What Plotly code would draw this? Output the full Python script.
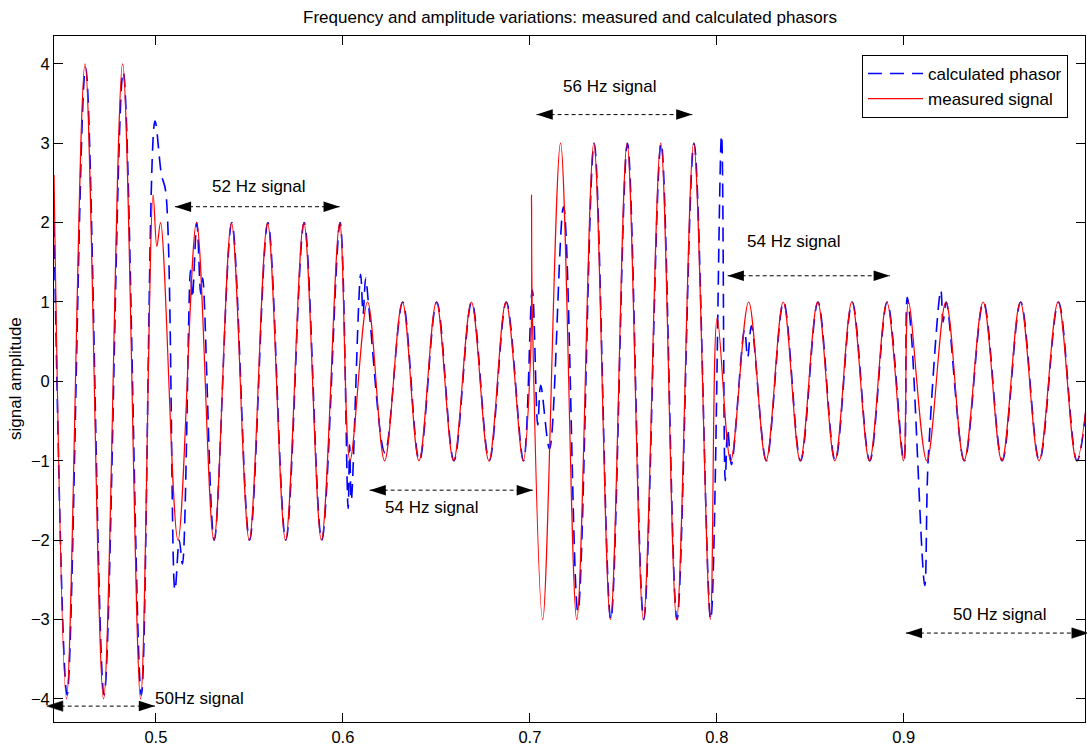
import plotly.graph_objects as go

# ---- measured signal (red): extrema ----
red_t = [0.4455, 0.4522, 0.4621, 0.4720, 0.4822, 0.4918, 0.4985, 0.5005, 0.5025,
         0.5118, 0.5217, 0.5310, 0.5404, 0.5499, 0.5597, 0.5693, 0.5791, 0.5885, 0.5983,
         0.6038, 0.6132, 0.6223, 0.6318, 0.6407, 0.6500, 0.6592, 0.6687, 0.6781, 0.6872,
         0.6964, 0.7005, 0.7009, 0.7013,
         0.7069, 0.7164, 0.7251, 0.7342, 0.7431, 0.7520, 0.7607, 0.7700, 0.7785, 0.7876,
         0.7965, 0.8002,
         0.8074, 0.8170, 0.8263, 0.8355, 0.8446, 0.8539, 0.8631, 0.8722, 0.8816, 0.8909,
         0.8998, 0.9025, 0.9123, 0.9225, 0.9322, 0.9424, 0.9524, 0.9623, 0.9723, 0.9825,
         0.9924, 1.0024]
red_v = [2.6, -4, 4, -4, 4, -4, 2.35, 1.7, 2.0,
         -2, 2, -2, 2, -2, 2, -2, 2, -2, 2,
         -1, 1, -1, 1, -1, 1, -1, 1, -1, 1,
         -1, 0.4, 2.35, 0.9,
         -3, 3, -3, 3, -3, 3, -3, 3, -3, 3,
         -3, 0.8,
         -1, 1, -1, 1, -1, 1, -1, 1, -1, 1,
         -1, 1, -1, 1, -1, 1, -1, 1, -1, 1,
         -1, 1]

# ---- calculated phasor (blue): extrema ----
blue_t = [0.4455, 0.4525, 0.4624, 0.4723, 0.4825, 0.4922, 0.4995, 0.5030, 0.5052,
          0.5102, 0.5125, 0.5142, 0.5185, 0.5195, 0.5219, 0.5240, 0.5250,
          0.5312, 0.5406, 0.5501, 0.5599, 0.5695, 0.5793, 0.5887, 0.5985,
          0.6028, 0.6036, 0.6045, 0.6095, 0.6108, 0.6122, 0.6140,
          0.6225, 0.6320, 0.6409, 0.6502, 0.6594, 0.6689, 0.6783, 0.6874,
          0.6966, 0.7013, 0.7042, 0.7058, 0.7105, 0.7180,
          0.7257, 0.7344, 0.7433, 0.7522, 0.7609, 0.7702, 0.7787, 0.7878,
          0.7967, 0.8025, 0.8045, 0.8058, 0.8078, 0.8148, 0.8165, 0.8185,
          0.8265, 0.8357, 0.8448, 0.8541, 0.8633, 0.8724, 0.8818, 0.8911,
          0.9000, 0.9018, 0.9040, 0.9112, 0.9130, 0.9198, 0.9210, 0.9227,
          0.9324, 0.9426, 0.9526, 0.9625, 0.9725, 0.9827, 0.9926, 1.0026]
blue_v = [2.0, -3.95, 3.95, -3.95, 3.9, -3.95, 3.28, 2.6, 2.4,
          -2.63, -2.0, -2.3, 1.4, 1.05, 2.0, 1.1, 1.3,
          -2, 2, -2, 2, -2, 2, -2, 2,
          -1.6, -0.8, -1.5, 1.35, 0.85, 1.3, 0.9,
          -0.9, 1, -1, 1, -1, 1, -1, 1,
          -1, 1.15, -0.55, -0.05, -0.85, 2.2,
          -2.9, 3, -3, 3, -3, 3, -3, 3,
          -3, 3.1, -1.25, -0.6, -1.05, 0.65, 0.3, 0.7,
          -1, 1, -1, 1, -1, 1, -1, 1,
          -1, 1.06, 0.6, -2.57, -1.0, 1.15, 0.75, 1.0,
          -1, 1, -1, 1, -1, 1, -1, 1]

x_ticks = [0.5, 0.6, 0.7, 0.8, 0.9]
y_ticks = [-4, -3, -2, -1, 0, 1, 2, 3, 4]

label_text = ["52 Hz signal", "54 Hz signal", "56 Hz signal", "54 Hz signal", "50 Hz signal", "50Hz signal"]
label_x = [0.5549, 0.6479, 0.7426, 0.8411, 0.9515, 0.5233]
label_y = [2.46, -1.59, 3.72, 1.76, -2.94, -4.0]
arrow_x0 = [0.5102, 0.6143, 0.7036, 0.8058, 0.9011, 0.4416]
arrow_x1 = [0.5983, 0.7016, 0.7869, 0.8925, 0.9985, 0.4995]
arrow_y = [2.2, -1.37, 3.36, 1.33, -3.17, -4.09]

X_RANGE = [0.4455, 0.9969]
Y_RANGE = [-4.29, 4.35]
FONT = "Liberation Sans, Arial, sans-serif"
PLOT_W, PLOT_H = 1032, 689

fig = go.Figure()
fig.add_trace(go.Scatter(x=blue_t, y=blue_v, mode="lines", name="calculated phasor",
                         line=dict(color="#0000ff", width=1.6, dash="14px,8px", shape="spline")))
fig.add_trace(go.Scatter(x=red_t, y=red_v, mode="lines", name="measured signal",
                         line=dict(color="#ff0000", width=1.2, shape="spline")))

# dotted double-headed arrows
ax, ay, ang = [], [], []
for x0, x1, yv in zip(arrow_x0, arrow_x1, arrow_y):
    ax += [x0, x1, None]
    ay += [yv, yv, None]
    ang += [-90, 90, 0]
fig.add_trace(go.Scatter(x=ax, y=ay, mode="lines+markers", showlegend=False, cliponaxis=False,
                         line=dict(color="black", width=1, dash="4px,3px"),
                         marker=dict(symbol="arrow", size=17, angle=ang, color="black")))

# arrow heads that fall just outside the axis range (markers there are hidden by plotly)
HEAD_LEN, HEAD_HALF = 16.2, 5.25
span = X_RANGE[1] - X_RANGE[0]
ypx = PLOT_H / (Y_RANGE[1] - Y_RANGE[0])
for x0, x1, yv in zip(arrow_x0, arrow_x1, arrow_y):
    for tip, direction in ((x0, -1), (x1, 1)):
        if X_RANGE[0] <= tip <= X_RANGE[1]:
            continue
        px = (tip - X_RANGE[0]) / span
        bx = px - direction * HEAD_LEN / PLOT_W
        dy = HEAD_HALF / ypx
        fig.add_shape(type="path", xref="paper", yref="y",
                      path=f"M {px},{yv} L {bx},{yv + dy} L {bx},{yv - dy} Z",
                      fillcolor="black", line=dict(color="black", width=0.5))

for t, x, y in zip(label_text, label_x, label_y):
    fig.add_annotation(x=x, y=y, text=t, showarrow=False, xanchor="center", yanchor="middle",
                       font=dict(size=17, color="black", family=FONT))

fig.add_annotation(xref="paper", yref="paper", x=-39 / PLOT_W, y=0.5, text="signal amplitude",
                   textangle=-90, showarrow=False, xanchor="center", yanchor="middle",
                   font=dict(size=17, color="black", family=FONT))

fig.update_layout(
    width=1087, height=747,
    margin=dict(l=54, r=1, t=36, b=22),
    paper_bgcolor="white", plot_bgcolor="white",
    font=dict(family=FONT, size=17, color="black"),
    title=dict(text="Frequency and amplitude variations: measured and calculated phasors",
               x=570 / 1087, xanchor="center", y=1 - 17 / 747, yref="container",
               yanchor="middle", font=dict(size=17, color="black", family=FONT)),
    legend=dict(x=(1069 - 54) / PLOT_W, xanchor="right", y=(725 - 55) / PLOT_H, yanchor="top",
                bgcolor="white", bordercolor="black", borderwidth=1, itemwidth=55,
                tracegroupgap=0,
                font=dict(size=17, color="black", family=FONT)),
    showlegend=True,
)
fig.update_xaxes(range=X_RANGE, tickvals=x_ticks, ticktext=[str(v) for v in x_ticks],
                 ticks="inside", ticklen=9, tickcolor="black", showline=True, linecolor="black",
                 linewidth=1, mirror="ticks", showgrid=False, zeroline=False,
                 tickfont=dict(size=16.5, color="black", family=FONT))
fig.update_yaxes(range=Y_RANGE, tickvals=y_ticks, ticks="inside", ticklen=9, tickcolor="black",
                 showline=True, linecolor="black", linewidth=1, mirror="ticks", showgrid=False,
                 zeroline=False, tickfont=dict(size=16.5, color="black", family=FONT))

fig.write_html("out.html", config={"displayModeBar": False},
               post_script="document.body.style.margin='0';document.body.style.overflow='hidden';")
